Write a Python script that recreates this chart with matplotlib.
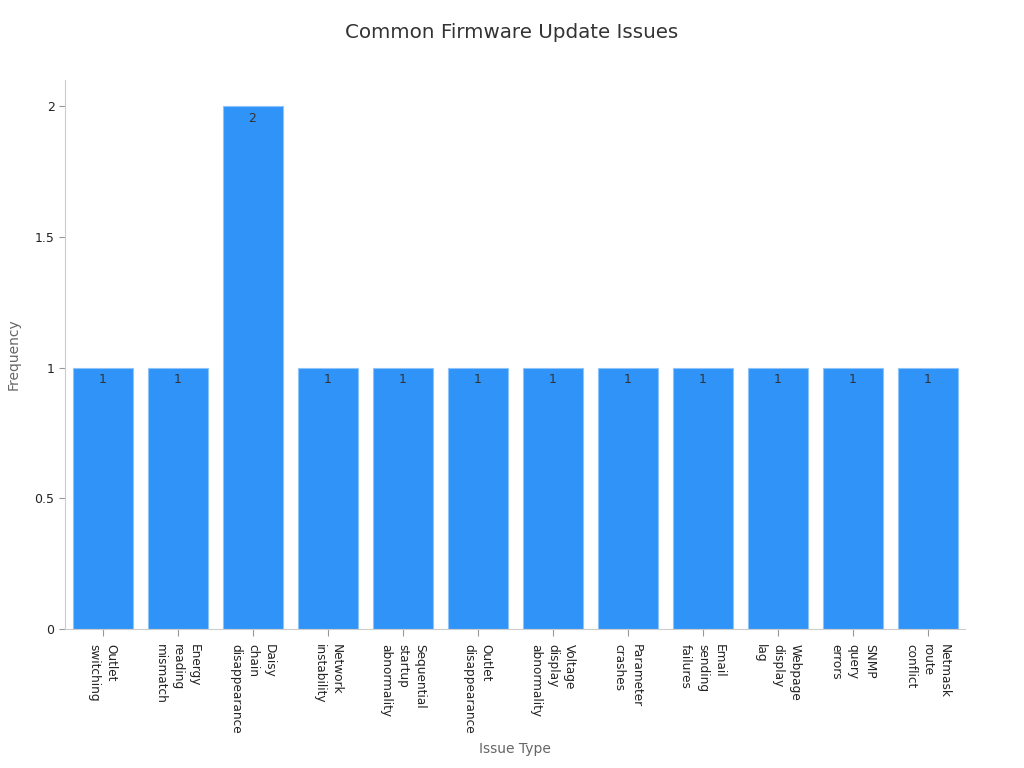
import matplotlib
matplotlib.use("Agg")
import matplotlib.pyplot as plt
from matplotlib.ticker import FuncFormatter

# 数据
issues = [
    "Outlet\nswitching",
    "Energy\nreading\nmismatch",
    "Daisy\nchain\ndisappearance",
    "Network\ninstability",
    "Sequential\nstartup\nabnormality",
    "Outlet\ndisappearance",
    "Voltage\ndisplay\nabnormality",
    "Parameter\ncrashes",
    "Email\nsending\nfailures",
    "Webpage\ndisplay\nlag",
    "SNMP\nquery\nerrors",
    "Netmask\nroute\nconflict",
]
frequency = [1, 1, 2, 1, 1, 1, 1, 1, 1, 1, 1, 1]

plt.rcParams['font.family'] = ['DejaVu Sans']

fig = plt.figure(figsize=(10.24, 7.68), dpi=100)
ax = fig.add_axes([0.0635, 0.181, 0.879, 0.715])

x = list(range(len(issues)))
bars = ax.bar(x, frequency, width=0.8, color='#2f93f7', edgecolor='#8cc4fb', linewidth=0.8)

# 柱内数值标签
for xi, v in zip(x, frequency):
    ax.annotate(str(v), (xi, v), xytext=(0, -4), textcoords='offset points',
                ha='center', va='top', fontsize=9, color='#333333')

ax.set_xlim(-0.5, len(issues) - 0.5)
ax.set_ylim(0, 2.1)
ax.set_yticks([0, 0.5, 1, 1.5, 2])
ax.yaxis.set_major_formatter(FuncFormatter(lambda v, p: f"{v:g}"))
ax.set_xticks(x)
ax.set_xticklabels(issues, rotation=-90, ha='center', va='top', fontsize=8.7,
                   color='#222222', multialignment='left', linespacing=1.4)
ax.tick_params(axis='y', labelsize=9, colors='#222222', length=4, color='#999999')
ax.tick_params(axis='x', length=5, color='#999999', pad=6)

for s in ['top', 'right']:
    ax.spines[s].set_visible(False)
for s in ['left', 'bottom']:
    ax.spines[s].set_color('#cccccc')

ax.set_xlabel("Issue Type", fontsize=10, color='#666666', labelpad=6)
ax.set_ylabel("Frequency", fontsize=10, color='#666666', labelpad=10)
fig.suptitle("Common Firmware Update Issues", fontsize=14.3, color='#333333', y=0.97)

fig.savefig("out.png", dpi=100)
